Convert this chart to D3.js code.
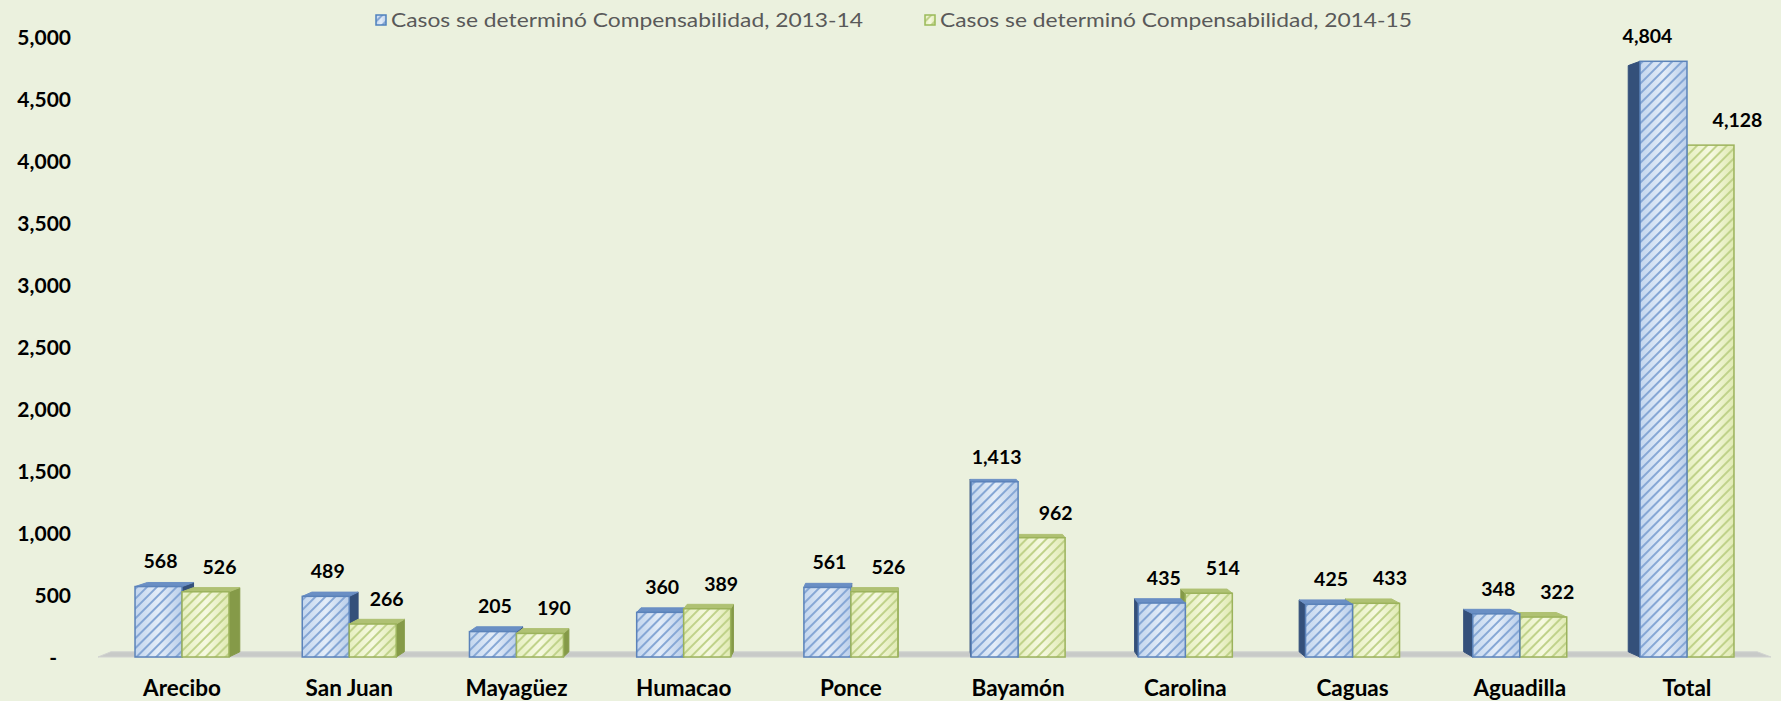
<!DOCTYPE html>
<html>
<head>
<meta charset="utf-8">
<script src="https://cdn.jsdelivr.net/npm/d3@7"></script>
<style>
  html, body { margin: 0; padding: 0; background: #EBF1DE; }
  svg { display: block; }
</style>
</head>
<body>
<div id="chart"></div>
<script>
const categories = ["Arecibo", "San Juan", "Mayagüez", "Humacao", "Ponce", "Bayamón", "Carolina", "Caguas", "Aguadilla", "Total"];
const seriesNames = ["Casos se determinó Compensabilidad, 2013-14", "Casos se determinó Compensabilidad, 2014-15"];
const values2013 = [568, 489, 205, 360, 561, 1413, 435, 425, 348, 4804];
const values2014 = [526, 266, 190, 389, 526, 962, 514, 433, 322, 4128];
const yTicks = [0, 500, 1000, 1500, 2000, 2500, 3000, 3500, 4000, 4500, 5000];

const width = 1781, height = 701;
const font = "Lato, 'Open Sans', sans-serif";

// colores de cada serie: frente (degradado), rayas, borde, lado, tapa
const looks = [
    { g: ["#C3D6EE", "#E4EDF8", "#BBCFEA"], stripe: "#86A7D5", border: "#5B83BA", side: "#34507A", top: "#6A8FC4" },
    { g: ["#E6EFC0", "#F6F9E2", "#E0EAB3"], stripe: "#C0D28A", border: "#9CB35C", side: "#859A48", top: "#AFC173" }
];

// perspectiva: punto de fuga y profundidad
const vp = [904, 331], depth = 0.016;
const persp = (px, py) => [px + depth * (vp[0] - px), py + depth * (vp[1] - py)];

// corrimiento de etiquetas de la barra Total
const labelNudge = { "Total": [-18, 13] };

const svg = d3.select("#chart")
    .append("svg")
    .attr("width", width)
    .attr("height", height)
    .style("background", "#EBF1DE");

const defs = svg.append("defs");
looks.forEach((lk, i) => {
    const grad = defs.append("linearGradient").attr("id", "grad" + i)
        .attr("x1", "0%").attr("x2", "100%").attr("y1", "0%").attr("y2", "0%");
    grad.append("stop").attr("offset", "0%").attr("stop-color", lk.g[0]);
    grad.append("stop").attr("offset", "50%").attr("stop-color", lk.g[1]);
    grad.append("stop").attr("offset", "100%").attr("stop-color", lk.g[2]);

    const pat = defs.append("pattern").attr("id", "hatch" + i)
        .attr("patternUnits", "userSpaceOnUse")
        .attr("width", 7).attr("height", 7)
        .attr("patternTransform", "rotate(45)");
    pat.append("line")
        .attr("x1", 1).attr("y1", 0).attr("x2", 1).attr("y2", 7)
        .attr("stroke", lk.stripe).attr("stroke-width", 2);
});

const y = d3.scaleLinear().domain([0, 5000]).range([657, 37]);
const x0 = d3.scaleBand().domain(categories).range([98.4, 1770.6]).paddingInner(0.438).paddingOuter(0.219);
const x1 = d3.scaleBand().domain([0, 1]).range([0, x0.bandwidth()]);

// piso gris
const floorFront = [[98, y(0)], [1771, y(0)]];
const floorBack = floorFront.map(p => persp(p[0], p[1])).reverse();
svg.append("polygon")
    .attr("points", floorFront.concat(floorBack).map(p => p.join(",")).join(" "))
    .attr("fill", "#C8CAC8")
    .attr("stroke", "#D2D4D1")
    .attr("stroke-width", 1);

// eje Y
const yAxis = svg.append("g")
    .attr("transform", "translate(71,0)")
    .call(d3.axisLeft(y).tickValues(yTicks).tickSize(0).tickPadding(0)
        .tickFormat(d => d === 0 ? "-" : d3.format(",")(d)));
yAxis.select(".domain").remove();
yAxis.selectAll("text")
    .attr("font-family", font)
    .attr("font-size", 21)
    .attr("font-weight", "bold")
    .attr("fill", "#000")
    .attr("dy", "0.35em")
    .attr("x", d => d === 0 ? -14 : 0);

// eje X
const xAxis = svg.append("g")
    .attr("transform", "translate(0,688)")
    .call(d3.axisBottom(x0).tickSize(0).tickPadding(0));
xAxis.select(".domain").remove();
xAxis.selectAll("text")
    .attr("font-family", font)
    .attr("font-size", 22.5)
    .attr("font-weight", "bold")
    .attr("fill", "#000")
    .attr("y", 0)
    .attr("dy", "0.35em");

// barras 3D
const bars = [];
categories.forEach((c, i) => {
    [values2013[i], values2014[i]].forEach((v, s) => {
        const xl = x0(c) + x1(s), xr = xl + x1.bandwidth();
        bars.push({ cat: c, s, v, xl, xr, yt: y(v), yb: y(0) });
    });
});
// pintar primero las más alejadas del punto de fuga
bars.sort((a, b) => Math.abs((b.xl + b.xr) / 2 - vp[0]) - Math.abs((a.xl + a.xr) / 2 - vp[0]));

const pts = arr => arr.map(p => p.join(",")).join(" ");
const barG = svg.append("g");
bars.forEach(b => {
    const lk = looks[b.s];
    const g = barG.append("g");
    const fTL = [b.xl, b.yt], fTR = [b.xr, b.yt], fBL = [b.xl, b.yb], fBR = [b.xr, b.yb];
    const bTL = persp(...fTL), bTR = persp(...fTR), bBL = persp(...fBL), bBR = persp(...fBR);

    if (vp[0] > b.xr) {
        g.append("polygon").attr("points", pts([fTR, bTR, bBR, fBR]))
            .attr("fill", lk.side).attr("stroke", lk.side).attr("stroke-width", 1);
    } else if (vp[0] < b.xl) {
        g.append("polygon").attr("points", pts([fTL, bTL, bBL, fBL]))
            .attr("fill", lk.side).attr("stroke", lk.side).attr("stroke-width", 1);
    }
    if (vp[1] < b.yt) {
        g.append("polygon").attr("points", pts([fTL, fTR, bTR, bTL]))
            .attr("fill", lk.top).attr("stroke", lk.top).attr("stroke-width", 1);
    }
    g.append("rect")
        .attr("x", b.xl).attr("y", b.yt)
        .attr("width", b.xr - b.xl).attr("height", b.yb - b.yt)
        .attr("fill", `url(#grad${b.s})`);
    g.append("rect")
        .attr("x", b.xl).attr("y", b.yt)
        .attr("width", b.xr - b.xl).attr("height", b.yb - b.yt)
        .attr("fill", `url(#hatch${b.s})`)
        .attr("stroke", lk.border)
        .attr("stroke-width", 1.5);
});

// etiquetas de valores
svg.append("g").selectAll("text")
    .data(bars)
    .enter()
    .append("text")
    .attr("x", d => (d.xl + d.xr) / 2 + (d.s === 0 ? 2 : 14) + (labelNudge[d.cat] ? labelNudge[d.cat][d.s] : 0))
    .attr("y", d => d.yt - 25)
    .attr("dy", "0.35em")
    .attr("text-anchor", "middle")
    .attr("font-family", font)
    .attr("font-size", 19.5)
    .attr("font-weight", "bold")
    .attr("fill", "#000")
    .text(d => d3.format(",")(d.v));

// leyenda
const legend = svg.append("g").attr("transform", "translate(376,20)");
seriesNames.forEach((name, i) => {
    const item = legend.append("g").attr("transform", `translate(${i * 549},0)`);
    item.append("rect")
        .attr("x", 0).attr("y", -5).attr("width", 10).attr("height", 10)
        .attr("fill", `url(#grad${i})`);
    item.append("rect")
        .attr("x", 0).attr("y", -5).attr("width", 10).attr("height", 10)
        .attr("fill", `url(#hatch${i})`)
        .attr("stroke", i === 0 ? "#4F81BD" : "#9BBB59")
        .attr("stroke-width", 1.5);
    item.append("text")
        .attr("x", 15).attr("y", 0)
        .attr("dy", "0.35em")
        .attr("font-family", font)
        .attr("font-size", 19)
        .attr("fill", "#595959")
        .attr("textLength", 472)
        .attr("lengthAdjust", "spacingAndGlyphs")
        .text(name);
});
</script>
</body>
</html>
